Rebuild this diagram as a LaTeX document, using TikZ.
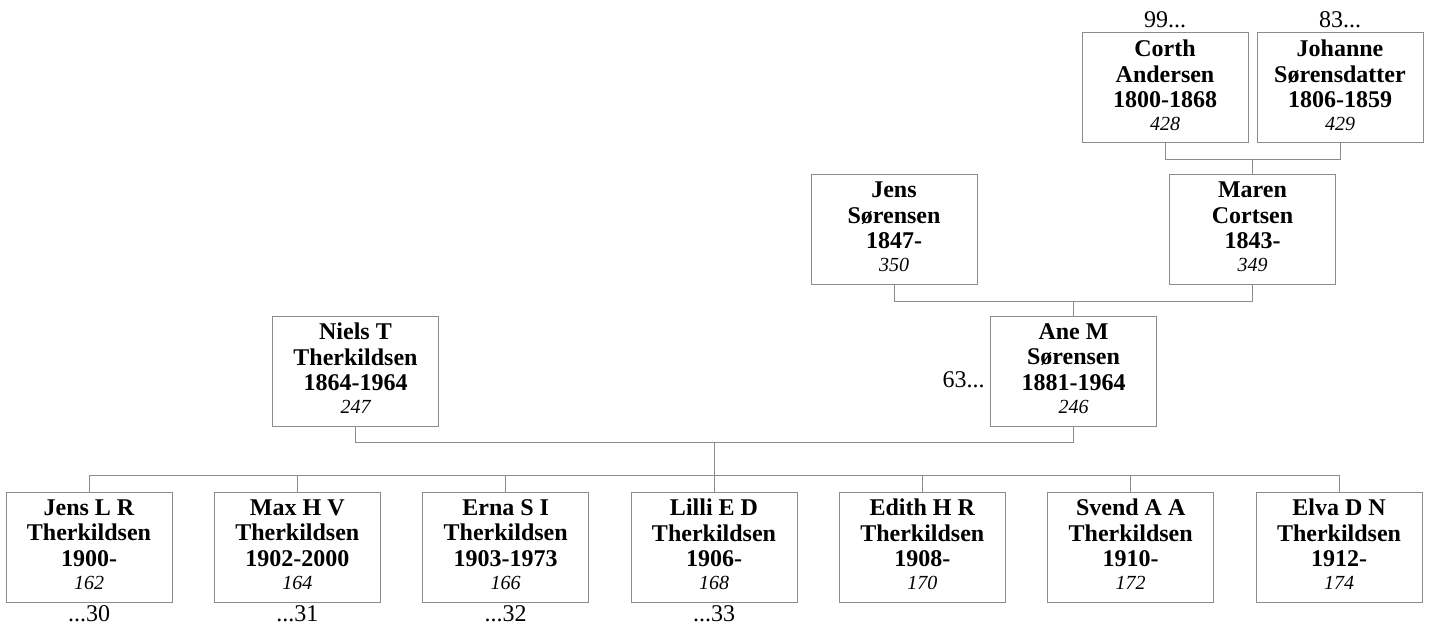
\documentclass[tikz,border=0pt]{standalone}
\usepackage{fontspec}
\setmainfont{Liberation Serif}
\usepackage{tikz}

\newcommand{\idno}[1]{{\normalfont\itshape\fontsize{10}{11}\selectfont #1\rule[-2.6pt]{0pt}{2.6pt}}}

\begin{document}
\begin{tikzpicture}[
  x=0.5pt, y=-0.5pt,
  person/.style={
    draw=black!45,
    line width=0.5pt,
    minimum width=83pt,
    minimum height=55pt,
    inner sep=0pt,
    align=center,
    font=\fontsize{12}{12.85}\selectfont\bfseries,
  },
  link/.style={
    draw=black!45,
    line width=0.5pt,
  },
  more/.style={
    inner sep=0pt,
    font=\fontsize{12}{12.85}\selectfont,
  },
]
\useasboundingbox (0,0) rectangle (1429,626);

% ============================================================
% GRANDPARENTS (top)
% ============================================================
\node[person] (corth) at (1165,88)
  {Corth\\Andersen\\1800-1868\\[-1.35pt]\idno{428}};
\node[person] (johanne) at (1340,88)
  {Johanne\\Sørensdatter\\1806-1859\\[-1.35pt]\idno{429}};

\node[more, anchor=base] (corthup) at ([yshift=2.5pt]corth.north) {99...};
\node[more, anchor=base] (johanneup) at ([yshift=2.5pt]johanne.north) {83...};

% ============================================================
% PARENTS OF ANE
% ============================================================
\node[person] (jenss) at (894,229.5)
  {Jens\\Sørensen\\1847-\\[-1.35pt]\idno{350}};
\node[person] (maren) at (1252.5,229.5)
  {Maren\\Cortsen\\1843-\\[-1.35pt]\idno{349}};

% ============================================================
% PARENTS
% ============================================================
\node[person] (niels) at (355.5,371)
  {Niels T\\Therkildsen\\1864-1964\\[-1.35pt]\idno{247}};
\node[person] (ane) at (1073.5,371)
  {Ane M\\Sørensen\\1881-1964\\[-1.35pt]\idno{246}};

\node[more, anchor=base east] (aneleft) at ([xshift=-2.5pt, yshift=-8pt]ane.west) {63...};

% ============================================================
% CHILDREN (bottom)
% ============================================================
\node[person] (jensl) at (89,547)
  {Jens L R\\Therkildsen\\1900-\\[-1.35pt]\idno{162}};
\node[person] (max) at (297.3,547)
  {Max H V\\Therkildsen\\1902-2000\\[-1.35pt]\idno{164}};
\node[person] (erna) at (505.7,547)
  {Erna S I\\Therkildsen\\1903-1973\\[-1.35pt]\idno{166}};
\node[person] (lilli) at (714,547)
  {Lilli E D\\Therkildsen\\1906-\\[-1.35pt]\idno{168}};
\node[person] (edith) at (922.3,547)
  {Edith H R\\Therkildsen\\1908-\\[-1.35pt]\idno{170}};
\node[person] (svend) at (1130.7,547)
  {Svend A A\\Therkildsen\\1910-\\[-1.35pt]\idno{172}};
\node[person] (elva) at (1339,547)
  {Elva D N\\Therkildsen\\1912-\\[-1.35pt]\idno{174}};

\node[more, anchor=north] (jensldown) at ([yshift=-1.5pt]jensl.south) {...30};
\node[more, anchor=north] (maxdown) at ([yshift=-1.5pt]max.south) {...31};
\node[more, anchor=north] (ernadown) at ([yshift=-1.5pt]erna.south) {...32};
\node[more, anchor=north] (lillidown) at ([yshift=-1.5pt]lilli.south) {...33};

% ============================================================
% CONNECTORS
% ============================================================
\draw[link] (corth.south) -- ++(0,16) coordinate (cbar) -| (johanne.south);
\draw[link] (maren.north) -- (maren.north |- cbar);

\draw[link] (jenss.south) -- ++(0,16) coordinate (jbar) -| (maren.south);
\draw[link] (ane.north) -- (ane.north |- jbar);

\draw[link] (niels.south) -- ++(0,16) coordinate (nbar) -| (ane.south);
\draw[link] (jensl.north) -- ++(0,-16) coordinate (kbar) -| (elva.north);
\draw[link] (lilli.north) -- (lilli.north |- nbar);
\draw[link] (max.north)   -- (max.north |- kbar);
\draw[link] (erna.north)  -- (erna.north |- kbar);
\draw[link] (edith.north) -- (edith.north |- kbar);
\draw[link] (svend.north) -- (svend.north |- kbar);

\end{tikzpicture}
\end{document}
